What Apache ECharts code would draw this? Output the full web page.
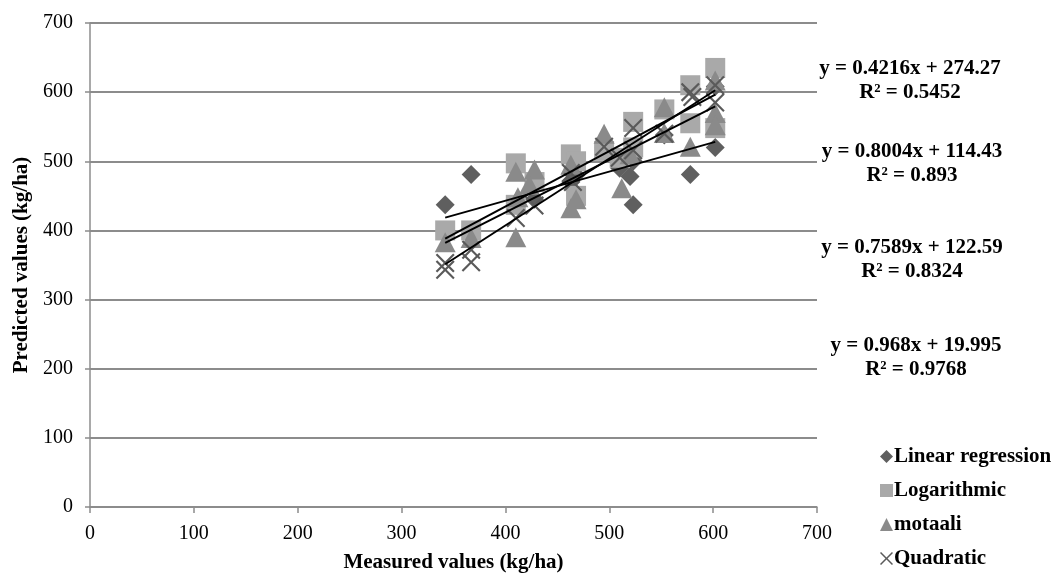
<!DOCTYPE html>
<html>
<head>
<meta charset="utf-8">
<script src="https://cdn.jsdelivr.net/npm/echarts@6/dist/echarts.min.js"></script>
<style>html,body{margin:0;padding:0;background:#fff;}#c{width:1053px;height:574px;}</style>
</head>
<body>
<div id="c"></div>
<script>
var xTicks = [0, 100, 200, 300, 400, 500, 600, 700];
var yTicks = [0, 100, 200, 300, 400, 500, 600, 700];
var seriesNames = ['Linear regression', 'Logarithmic', 'motaali', 'Quadratic'];

var linearPts = [[342,437],[367,481],[410,440],[428,445],[463,470],[468,480],[495,520],[510,490],[520,478],[523,437],[523,500],[553,538],[578,481],[602,520],[602,608]];
var logPts = [[342,400],[367,400],[410,497],[410,437],[428,470],[463,510],[468,500],[468,450],[495,515],[510,505],[523,557],[523,520],[553,575],[578,610],[578,555],[602,635],[602,548]];
var motaaliPts = [[342,383],[367,389],[410,485],[410,390],[412,448],[428,488],[423,466],[463,495],[463,432],[468,445],[495,540],[512,461],[520,510],[553,578],[553,541],[578,521],[602,617],[602,570],[602,552]];
var quadPts = [[342,343],[342,353],[367,354],[367,372],[410,418],[428,436],[463,483],[465,470],[495,521],[510,505],[523,548],[523,516],[553,540],[578,600],[580,593],[602,610],[602,585]];

var trendLinear = [[342,418.5],[602,528.1]];
var trendLog = [[342,388.2],[602,596.3]];
var trendMotaali = [[342,382.1],[602,579.5]];
var trendQuad = [[342,351.1],[602,602.7]];

var eqTexts = [
  ['y = 0.4216x + 274.27', 'R\u00b2 = 0.5452'],
  ['y = 0.8004x + 114.43', 'R\u00b2 = 0.893'],
  ['y = 0.7589x + 122.59', 'R\u00b2 = 0.8324'],
  ['y = 0.968x + 19.995', 'R\u00b2 = 0.9768']
];

var FONT = '"Liberation Serif","Times New Roman",serif';
var crossPath = 'path://M0,0.8 L0.8,0 L5,4.2 L9.2,0 L10,0.8 L5.8,5 L10,9.2 L9.2,10 L5,5.8 L0.8,10 L0,9.2 L4.2,5 Z';

var eqY = [69, 152, 248, 346];
var eqX = [910, 912, 912, 916];
var graphics = [];
eqTexts.forEach(function(t, i){
  graphics.push({type:'text', style:{text:t[0], x:eqX[i], y:eqY[i], textAlign:'center', textVerticalAlign:'middle', font:'bold 21px ' + FONT, fill:'#000'}});
  graphics.push({type:'text', style:{text:t[1], x:eqX[i], y:eqY[i]+24, textAlign:'center', textVerticalAlign:'middle', font:'bold 21px ' + FONT, fill:'#000'}});
});

function trend(d){
  return {type:'line', data:d, symbol:'none', silent:true, z:5,
    lineStyle:{color:'#000', width:2}, legendHoverLink:false};
}

var chart = echarts.init(document.getElementById('c'));
chart.setOption({
  animation:false,
  backgroundColor:'#fff',
  grid:{left:90, right:236, top:23, bottom:67, containLabel:false, outerBoundsMode:'none'},
  xAxis:{type:'value', min:0, max:700, interval:100,
    name:'Measured values (kg/ha)', nameLocation:'middle', nameGap:45,
    nameTextStyle:{fontFamily:FONT, fontWeight:'bold', fontSize:21, color:'#000'},
    axisLine:{show:true, lineStyle:{color:'#8c8c8c', width:1.5}},
    axisTick:{show:true, length:6, lineStyle:{color:'#8c8c8c', width:1.5}},
    axisLabel:{fontFamily:FONT, fontSize:20, color:'#000', margin:17},
    splitLine:{show:false}},
  yAxis:{type:'value', min:0, max:700, interval:100,
    name:'Predicted values (kg/ha)', nameLocation:'middle', nameGap:58,
    nameTextStyle:{fontFamily:FONT, fontWeight:'bold', fontSize:21, color:'#000'},
    axisLine:{show:true, lineStyle:{color:'#8c8c8c', width:1.5}},
    axisTick:{show:true, length:5, lineStyle:{color:'#8c8c8c', width:1.5}},
    axisLabel:{fontFamily:FONT, fontSize:20, color:'#000', margin:17},
    splitLine:{show:true, lineStyle:{color:'#8c8c8c', width:2}}},
  legend:{orient:'vertical', left:875, top:441, itemWidth:13, itemHeight:13, itemGap:13,
    data:seriesNames,
    textStyle:{fontFamily:FONT, fontWeight:'bold', fontSize:21, color:'#000', padding:[0,0,0,-4]}},
  graphic:graphics,
  series:[
    {name:seriesNames[0], type:'scatter', data:linearPts, symbol:'diamond', symbolSize:19, itemStyle:{color:'#5f5f5f', opacity:1}, z:2},
    {name:seriesNames[1], type:'scatter', data:logPts, symbol:'rect', symbolSize:20, itemStyle:{color:'#a9a9a9', opacity:1}, z:2},
    {name:seriesNames[2], type:'scatter', data:motaaliPts, symbol:'triangle', symbolSize:[21,20], itemStyle:{color:'#8a8a8a', opacity:1}, z:2},
    {name:seriesNames[3], type:'scatter', data:quadPts, symbol:crossPath, symbolSize:19, itemStyle:{color:'#5a5a5a', opacity:1}, z:2},
    trend(trendLinear), trend(trendLog), trend(trendMotaali), trend(trendQuad)
  ]
});
</script>
</body>
</html>
